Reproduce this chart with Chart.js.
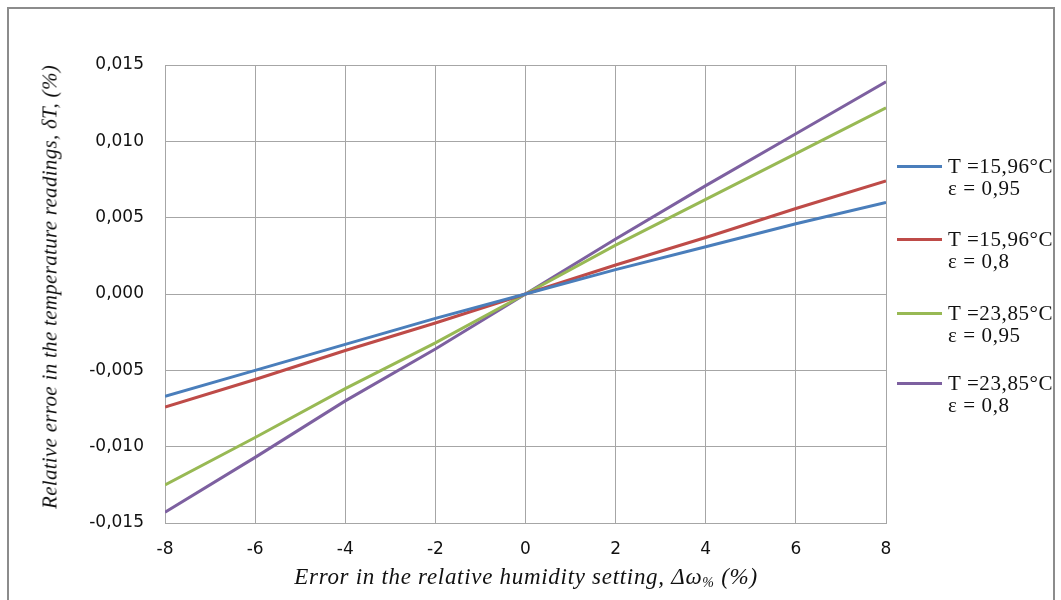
<!DOCTYPE html>
<html>
<head>
<meta charset="utf-8">
<script src="https://cdn.jsdelivr.net/npm/chart.js@4"></script>
<style>
html,body{margin:0;padding:0;background:#fff;}
#wrap{position:relative;width:1061px;height:600px;overflow:hidden;background:#fff;}
#frame{position:absolute;left:7px;top:7px;width:1048px;height:620px;border:2px solid #8c8c8c;box-sizing:border-box;}
canvas{position:absolute;left:0;top:0;}
.ttl{position:absolute;font-family:"Liberation Serif",serif;font-style:italic;color:#111;white-space:nowrap;}
#xt{left:526px;top:577px;font-size:23px;letter-spacing:0.7px;transform:translate(-50%,-50%);}
#xt sub{font-size:14px;vertical-align:-3px;}
#yt{left:50px;top:287px;font-size:21px;letter-spacing:0.3px;transform:translate(-50%,-50%) rotate(-90deg);}
.leg{position:absolute;font-family:"Liberation Serif",serif;font-size:21px;letter-spacing:0.6px;color:#111;line-height:22px;white-space:nowrap;}
.sw{position:absolute;left:-51px;top:10px;width:45px;height:3px;}
</style>
</head>
<body>
<div id="wrap">
<div id="frame"></div>
<canvas id="c" width="1061" height="600"></canvas>
<div id="yt" class="ttl">Relative erroe in the temperature readings, δT, (%)</div>
<div id="xt" class="ttl">Error in the relative humidity setting, Δω<sub>%</sub> (%)</div>
<div id="legend"></div>
</div>
<script>
const xValues = [-8, -6, -4, -2, 0, 2, 4, 6, 8];
const blueT1596e095 = [-0.0067, -0.0050, -0.0033, -0.0016, 0, 0.0016, 0.0031, 0.0046, 0.0060];
const redT1596e08 = [-0.0074, -0.0056, -0.0037, -0.0019, 0, 0.0019, 0.0037, 0.0056, 0.0074];
const greenT2385e095 = [-0.0125, -0.0094, -0.0062, -0.0032, 0, 0.0032, 0.0062, 0.0092, 0.0122];
const purpleT2385e08 = [-0.0143, -0.0107, -0.0070, -0.0036, 0, 0.0036, 0.0071, 0.0105, 0.0139];
const seriesLabels = [["T =15,96°C", "ε = 0,95"], ["T =15,96°C", "ε = 0,8"], ["T =23,85°C", "ε = 0,95"], ["T =23,85°C", "ε = 0,8"]];
const seriesColors = ["#4a7ebb", "#be4b48", "#98b954", "#7d60a0"];
const xTicks = [-8, -6, -4, -2, 0, 2, 4, 6, 8];
const yTicks = [-0.015, -0.010, -0.005, 0, 0.005, 0.010, 0.015];

const allSeries = [blueT1596e095, redT1596e08, greenT2385e095, purpleT2385e08];
const datasets = allSeries.map((arr, i) => ({
  label: seriesLabels[i].join(" "),
  data: arr.map((v, j) => ({x: xValues[j], y: v})),
  borderColor: seriesColors[i],
  backgroundColor: seriesColors[i],
  borderWidth: 3,
  pointRadius: 0,
  tension: 0,
  fill: false
}));

// HTML legend
const legTops = [155, 228, 302, 372];
const legEl = document.getElementById('legend');
seriesLabels.forEach((lab, i) => {
  const d = document.createElement('div');
  d.className = 'leg';
  d.style.left = '948px';
  d.style.top = legTops[i] + 'px';
  d.innerHTML = '<div class="sw" style="background:' + seriesColors[i] + '"></div>' + lab[0] + '<br>' + lab[1];
  legEl.appendChild(d);
});

const gridColor = '#a6a6a6';
new Chart(document.getElementById('c'), {
  type: 'line',
  data: {datasets},
  options: {
    responsive: false,
    animation: false,
    events: [],
    layout: {padding: {left: 0, top: 65, right: 175, bottom: 0}},
    plugins: {legend: {display: false}, tooltip: {enabled: false}},
    scales: {
      x: {
        type: 'linear',
        min: -8, max: 8,
        afterBuildTicks: s => { s.ticks = xTicks.map(v => ({value: v})); },
        afterFit: s => { s.height = 77; },
        grid: {color: gridColor, lineWidth: 1, drawTicks: false},
        border: {color: gridColor, width: 1},
        ticks: {padding: 16, color: '#111', font: {family: 'DejaVu Sans', size: 17},
                callback: v => String(v)}
      },
      y: {
        type: 'linear',
        min: -0.015, max: 0.015,
        afterBuildTicks: s => { s.ticks = yTicks.map(v => ({value: v})); },
        afterFit: s => { s.width = 165; },
        grid: {color: gridColor, lineWidth: 1, drawTicks: false},
        border: {color: gridColor, width: 1},
        ticks: {padding: 21, color: '#111', font: {family: 'DejaVu Sans', size: 17},
                callback: v => (Math.abs(v) < 1e-9 ? 0 : v).toFixed(3).replace('.', ',')}
      }
    }
  }
});
</script>
</body>
</html>
